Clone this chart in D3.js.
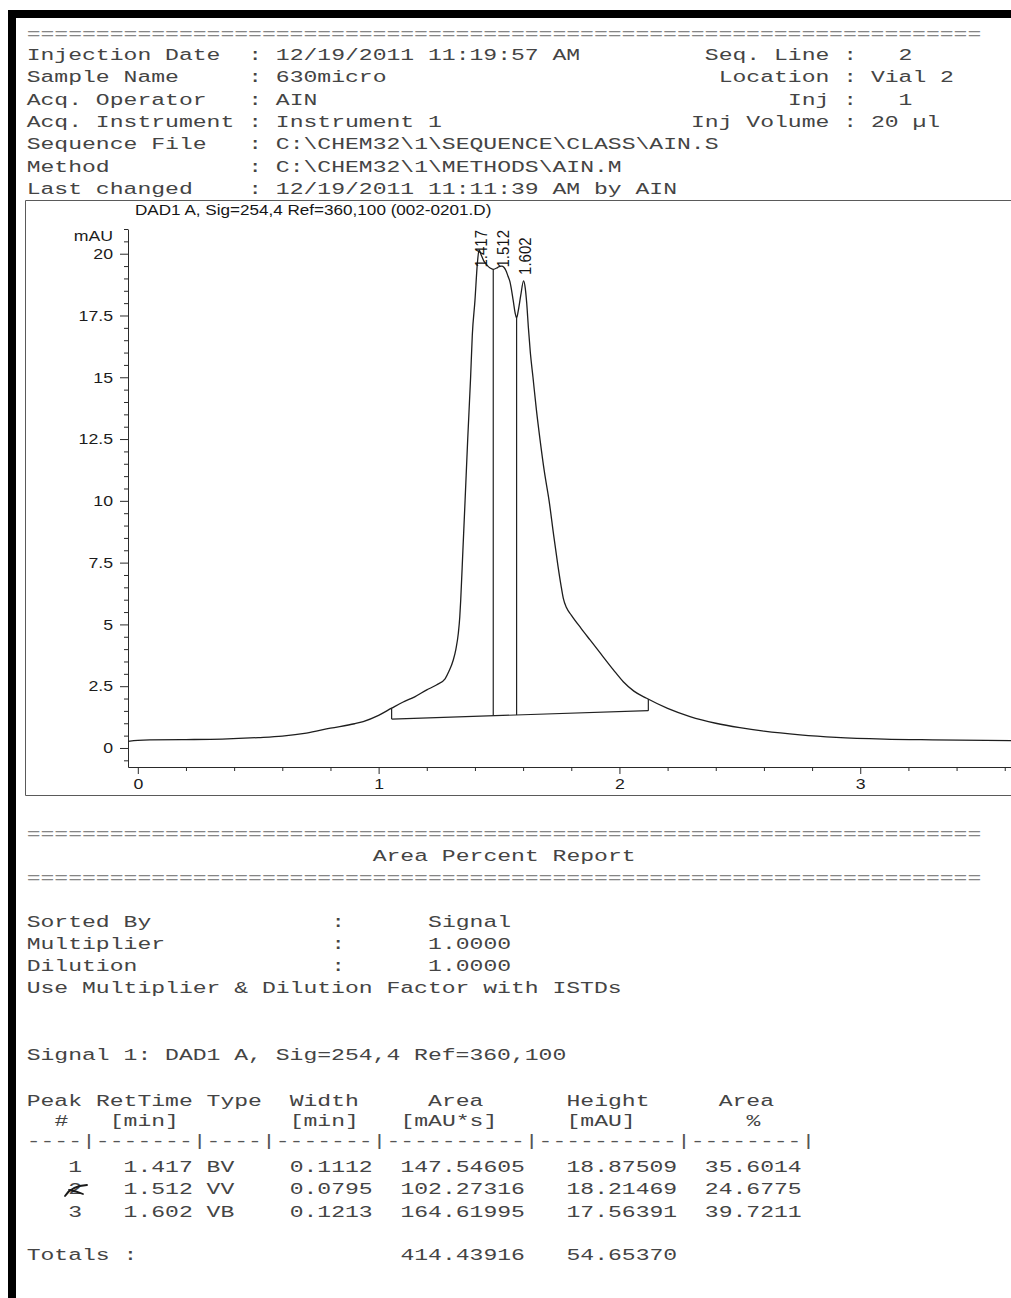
<!DOCTYPE html>
<html>
<head>
<meta charset="utf-8">
<script src="https://cdn.jsdelivr.net/npm/d3@7"></script>
<style>
  html, body { margin: 0; padding: 0; background: #fff; }
  svg { display: block; }
  .mono { font-family: "Liberation Mono", "DejaVu Sans Mono", monospace; font-size: 17px; fill: #444; }
  .sans { font-family: "Liberation Sans", Arial, sans-serif; font-size: 15px; fill: #161616; }
  .axis text { font-family: "Liberation Sans", Arial, sans-serif; font-size: 15px; fill: #1c1c1c; }
  .axis path, .axis line { stroke: #2a2a2a; stroke-width: 1; }
</style>
</head>
<body>
<svg id="page" width="1011" height="1298"></svg>
<script>
// ---------- run information ----------
const headerLabels = ["Injection Date", "Sample Name", "Acq. Operator", "Acq. Instrument",
                      "Sequence File", "Method", "Last changed"];
const headerValues = ["12/19/2011 11:19:57 AM", "630micro", "AIN", "Instrument 1",
                      "C:\\CHEM32\\1\\SEQUENCE\\CLASS\\AIN.S", "C:\\CHEM32\\1\\METHODS\\AIN.M",
                      "12/19/2011 11:11:39 AM by AIN"];
const vialLabels = ["Seq. Line", "Location", "Inj", "Inj Volume"];
const vialValues = ["2", "Vial 2", "1", "20 µl"];

// ---------- signal trace (time in min, absorbance in mAU) ----------
const signalTitle = "DAD1 A, Sig=254,4 Ref=360,100 (002-0201.D)";
const traceTime = [
  -0.04, 0.00, 0.05, 0.20, 0.35, 0.50, 0.60, 0.70, 0.80, 0.90, 0.936, 1.00, 1.054, 1.10, 1.15,
  1.20, 1.24, 1.276, 1.292, 1.310, 1.321, 1.331, 1.337, 1.341, 1.350, 1.359, 1.370, 1.382,
  1.389, 1.400, 1.410, 1.417, 1.426, 1.436, 1.449, 1.463, 1.476, 1.494, 1.503, 1.512, 1.520,
  1.528, 1.537, 1.545, 1.559, 1.567, 1.573, 1.580, 1.590, 1.602, 1.609, 1.615, 1.622, 1.630,
  1.641, 1.655, 1.670, 1.688, 1.708, 1.727, 1.745, 1.757, 1.767, 1.780, 1.800, 1.840, 1.878,
  1.930, 1.975, 2.016, 2.060, 2.113, 2.200, 2.293, 2.400, 2.500, 2.600, 2.750, 2.900, 3.100,
  3.300, 3.626
];
const traceMAU = [
  0.27, 0.31, 0.33, 0.34, 0.36, 0.42, 0.48, 0.60, 0.80, 0.98, 1.07, 1.32, 1.61, 1.85, 2.07,
  2.35, 2.55, 2.80, 3.10, 3.56, 4.00, 4.64, 5.30, 6.00, 8.00, 10.00, 12.50, 15.00,
  16.70, 18.10, 19.60, 20.15, 19.95, 19.72, 19.55, 19.42, 19.37, 19.44, 19.49, 19.50, 19.45,
  19.33, 19.10, 18.88, 18.10, 17.60, 17.40, 17.70, 18.30, 18.90, 18.60, 18.00, 17.00, 16.00,
  15.00, 13.70, 12.50, 11.20, 10.00, 8.60, 7.35, 6.60, 6.05, 5.68, 5.38, 4.85, 4.37,
  3.72, 3.16, 2.68, 2.30, 2.01, 1.60, 1.27, 1.00, 0.82, 0.68, 0.53, 0.43, 0.36,
  0.33, 0.30
];

// ---------- integration results ----------
const peakNumber = [1, 2, 3];
const retTime    = [1.417, 1.512, 1.602];
const peakType   = ["BV", "VV", "VB"];
const peakWidth  = [0.1112, 0.0795, 0.1213];
const peakArea   = [147.54605, 102.27316, 164.61995];
const peakHeight = [18.87509, 18.21469, 17.56391];
const areaPct    = [35.6014, 24.6775, 39.7211];
const totalArea = "414.43916";
const totalHeight = "54.65370";
// peak start / valley drops / peak end (min) and baseline level at start and end (mAU)
const boundaryTime = [1.054, 1.476, 1.573, 2.12];
const baselineMAU  = [1.17, 1.51];

// ---------- axes ----------
const yMajorTicks = [0, 2.5, 5, 7.5, 10, 12.5, 15, 17.5, 20];
const yTickLabels = ["0", "2.5", "5", "7.5", "10", "12.5", "15", "17.5", "20"];
const xMajorTicks = [0, 1, 2, 3];
const yUnit = "mAU";

// ---------- report ----------
const reportTitle = "Area Percent Report";
const settingLabels = ["Sorted By", "Multiplier", "Dilution"];
const settingValues = ["Signal", "1.0000", "1.0000"];
const settingNote = "Use Multiplier & Dilution Factor with ISTDs";
const signalLine = "Signal 1: DAD1 A, Sig=254,4 Ref=360,100";
const tableHead1 = ["Peak", "RetTime", "Type", "Width", "Area", "Height", "Area"];
const tableHead2 = ["#", "[min]", "", "[min]", "[mAU*s]", "[mAU]", "%"];

// ======================================================================
const svg = d3.select("#page");

// black scan border (top and left)
svg.append("rect").attr("x", 8).attr("y", 10).attr("width", 1003).attr("height", 8).attr("fill", "#000");
svg.append("rect").attr("x", 8).attr("y", 10).attr("width", 8).attr("height", 1288).attr("fill", "#000");

// fixed-pitch printer text: glyphs widened so every character fills one cell
const PITCH = 13.84, COL0 = 26.7, MONO_ADV = 17 * 0.6, MONO_SX = PITCH / MONO_ADV;
function mono(str, col, y, fill) {
  if (!str) return null;
  return svg.append("text")
    .attr("class", "mono")
    .attr("transform", `translate(${COL0 + col * PITCH},${y}) scale(${MONO_SX.toFixed(4)},1)`)
    .style("fill", fill || null)
    .text(str);
}

// ---------- header block ----------
mono("=".repeat(69), 0, 39, "#858585");
const ROW0 = 60, ROWSTEP = 22.3;
headerLabels.forEach((lab, i) => {
  const y = ROW0 + i * ROWSTEP;
  mono(lab, 0, y);
  mono(":", 16, y);
  mono(headerValues[i], 18, y);
});
vialLabels.forEach((lab, i) => {
  const y = ROW0 + i * ROWSTEP;
  mono(lab, 58 - lab.length, y);
  mono(":", 59, y);
  const v = vialValues[i];
  const col = /^\d+$/.test(v) ? 64 - v.length : 61;
  mono(v, col, y);
});

// ---------- chromatogram ----------
const x = d3.scaleLinear().domain([-0.0407, 3.626]).range([128, 1011]);
const y = d3.scaleLinear().domain([-0.77, 21.0]).range([767, 229]);
const SANS_SX = 1.18;

// frame around the plot
svg.append("path")
  .attr("d", "M1011,200.5H25.5V795.5H1011")
  .attr("fill", "none").attr("stroke", "#5a5a5a").attr("stroke-width", 1);

svg.append("text").attr("class", "sans")
  .attr("transform", `translate(135,214.5) scale(1.14,1)`)
  .text(signalTitle);

// y axis
const yAxisG = svg.append("g").attr("class", "axis").attr("transform", "translate(128,0)");
yAxisG.call(d3.axisLeft(y).tickValues(yMajorTicks)
  .tickFormat((d, i) => yTickLabels[i]).tickSize(8).tickPadding(7).tickSizeOuter(0));
yAxisG.selectAll(".tick text")
  .attr("x", -15 / SANS_SX)
  .attr("transform", `scale(${SANS_SX},1)`);
const yMinor = d3.range(-0.5, 21.01, 0.5).filter(v => Math.abs(v / 2.5 - Math.round(v / 2.5)) > 1e-6);
svg.append("g").attr("class", "axis").attr("transform", "translate(128,0)")
  .call(d3.axisLeft(y).tickValues(yMinor).tickFormat("").tickSize(4).tickSizeOuter(0))
  .select(".domain").remove();
svg.append("text").attr("class", "sans")
  .attr("transform", `translate(113,241) scale(${SANS_SX},1)`)
  .attr("text-anchor", "end").style("fill", "#1c1c1c").text(yUnit);

// x axis
const xAxisG = svg.append("g").attr("class", "axis").attr("transform", "translate(0,767)");
xAxisG.call(d3.axisBottom(x).tickValues(xMajorTicks).tickFormat(d3.format("d"))
    .tickSize(7).tickPadding(4).tickSizeOuter(0));
xAxisG.selectAll(".tick text").attr("transform", `scale(${SANS_SX},1)`);
const xMinor = d3.range(0.2, 3.61, 0.2).filter(v => Math.abs(v - Math.round(v)) > 1e-6);
svg.append("g").attr("class", "axis").attr("transform", "translate(0,767)")
  .call(d3.axisBottom(x).tickValues(xMinor).tickFormat("").tickSize(4).tickSizeOuter(0))
  .select(".domain").remove();

// trace
const trace = traceTime.map((t, i) => [t, traceMAU[i]]);
svg.append("path")
  .datum(trace)
  .attr("fill", "none")
  .attr("stroke", "#1e1e1e")
  .attr("stroke-width", 1.3)
  .attr("stroke-linejoin", "round")
  .attr("d", d3.line().x(d => x(d[0])).y(d => y(d[1])).curve(d3.curveMonotoneX));

const traceAt = t => {
  const i = d3.bisectRight(traceTime, t);
  if (i <= 0) return traceMAU[0];
  if (i >= traceTime.length) return traceMAU[traceMAU.length - 1];
  const t0 = traceTime[i - 1], t1 = traceTime[i];
  return traceMAU[i - 1] + (traceMAU[i] - traceMAU[i - 1]) * (t - t0) / (t1 - t0);
};
const tStart = boundaryTime[0], tEnd = boundaryTime[boundaryTime.length - 1];
const baseAt = d3.scaleLinear().domain([tStart, tEnd]).range(baselineMAU);

// integration baseline, boundary ticks and valley drop lines
const integ = svg.append("g").attr("stroke", "#222").attr("stroke-width", 1.2).attr("fill", "none");
integ.append("line")
  .attr("x1", x(tStart)).attr("y1", y(baseAt(tStart)))
  .attr("x2", x(tEnd)).attr("y2", y(baseAt(tEnd)));
integ.selectAll("line.drop")
  .data(boundaryTime)
  .join("line")
  .attr("class", "drop")
  .attr("x1", d => x(d)).attr("x2", d => x(d))
  .attr("y1", d => y(baseAt(d)))
  .attr("y2", d => y(traceAt(d)));

// retention time labels, vertical, above each apex
const labelG = svg.append("g");
retTime.forEach(rt => {
  const lbl = labelG.append("text").attr("class", "sans").attr("dy", "0.35em").text(rt.toFixed(3));
  const len = lbl.node().getComputedTextLength();
  const bottom = Math.max(y(traceAt(rt)) - 6, y(21.0) + len + 1);
  lbl.attr("transform", `translate(${x(rt) + 1.5},${bottom}) rotate(-90) scale(1,1.15)`);
});

// ---------- area percent report ----------
mono("=".repeat(69), 0, 839, "#858585");
mono(reportTitle, 25, 861);
mono("=".repeat(69), 0, 883, "#858585");

settingLabels.forEach((lab, i) => {
  const yy = 926.5 + i * ROWSTEP;
  mono(lab, 0, yy);
  mono(":", 22, yy);
  mono(settingValues[i], 29, yy);
});
mono(settingNote, 0, 926.5 + 3 * ROWSTEP);
mono(signalLine, 0, 1059.5);

const headCols1 = [0, 5, 13, 19, 29, 39, 50];
const headCols2 = [2, 6, 13, 19, 27, 39, 52];
tableHead1.forEach((h, i) => mono(h, headCols1[i], 1105.5));
tableHead2.forEach((h, i) => mono(h, headCols2[i], 1126));
mono("----|-------|----|-------|----------|----------|--------|", 0, 1146, "#555");

const rowCols = [3, 7, 13, 19, 27, 39, 49];
peakNumber.forEach((n, i) => {
  const yy = 1171.5 + i * 22.5;
  const cells = [String(n), retTime[i].toFixed(3), peakType[i], peakWidth[i].toFixed(4),
                 peakArea[i].toFixed(5), peakHeight[i].toFixed(5), areaPct[i].toFixed(4)];
  cells.forEach((c, j) => mono(c, rowCols[j], yy));
});
mono("Totals :", 0, 1259.5);
mono(totalArea, 27, 1259.5);
mono(totalHeight, 39, 1259.5);

// pen mark over the second peak number
svg.append("path")
  .attr("d", "M65,1196 Q71,1186 87,1185 M69,1190 Q76,1191 83,1194")
  .attr("fill", "none").attr("stroke", "#1a1a1a").attr("stroke-width", 1.8)
  .attr("stroke-linecap", "round");
</script>
</body>
</html>
